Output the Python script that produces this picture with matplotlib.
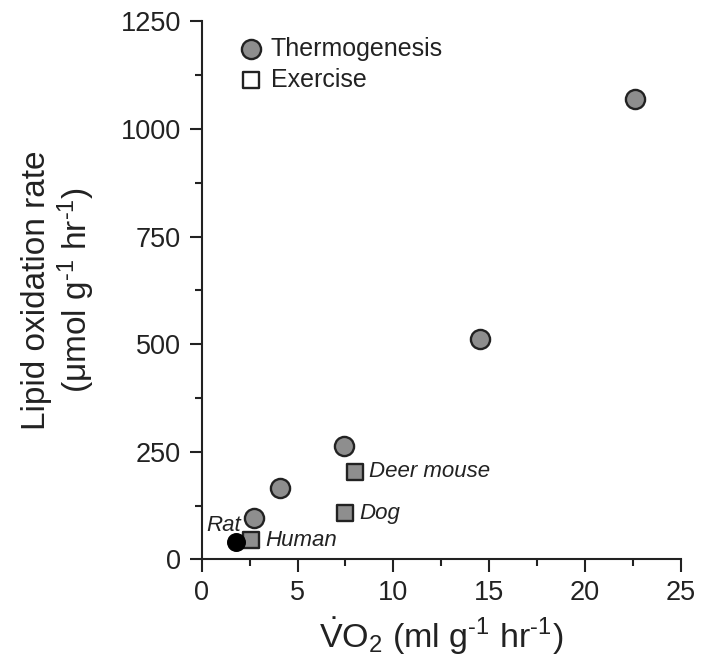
import matplotlib.pyplot as plt
from matplotlib.ticker import MultipleLocator

plt.rcParams['font.family'] = ['Liberation Sans', 'DejaVu Sans']
plt.rcParams['mathtext.fontset'] = 'custom'
plt.rcParams['mathtext.rm'] = 'Liberation Sans'
plt.rcParams['mathtext.it'] = 'Liberation Sans:italic'

# Thermogenesis (circles)
thermo_vo2 = [2.75, 4.1, 7.4, 14.5, 22.6]
thermo_lipid = [97, 166, 263, 512, 1070]

# Exercise (squares)
exercise_species = ['Human', 'Dog', 'Deer mouse']
exercise_vo2 = [2.6, 7.5, 8.0]
exercise_lipid = [45, 107, 204]

# Rat
rat_vo2 = [1.8]
rat_lipid = [40]

ink = '#222222'
grey = '#8e8e8e'

fig = plt.figure(figsize=(7.05, 6.70), dpi=100)
ax = fig.add_axes([0.286, 0.165, 0.68, 0.803])

ax.scatter(thermo_vo2, thermo_lipid, s=190, marker='o', facecolor=grey,
           edgecolor=ink, linewidth=1.7, zorder=3)
ax.scatter(exercise_vo2, exercise_lipid, s=120, marker='s', facecolor=grey,
           edgecolor=ink, linewidth=1.7, zorder=3)
ax.scatter(rat_vo2, rat_lipid, s=160, marker='o', facecolor='black',
           edgecolor='black', linewidth=1.0, zorder=4)

# species labels
for name, x, y in zip(exercise_species, exercise_vo2, exercise_lipid):
    ax.annotate(name, (x, y), xytext=(10, 0), textcoords='offset points',
                ha='left', va='center', fontsize=16, style='italic', color=ink)
ax.annotate('Rat', (rat_vo2[0], rat_lipid[0]), xytext=(-9, 12),
            textcoords='offset points', ha='center', va='center',
            fontsize=16, style='italic', color=ink)

# legend drawn by hand
ax.scatter([2.6], [1185], s=190, marker='o', facecolor=grey, edgecolor=ink,
           linewidth=1.7, clip_on=False)
ax.scatter([2.6], [1113], s=120, marker='s', facecolor='white', edgecolor=ink,
           linewidth=1.7, clip_on=False)
ax.text(3.6, 1185, 'Thermogenesis', fontsize=18, va='center', ha='left', color=ink)
ax.text(3.6, 1113, 'Exercise', fontsize=18, va='center', ha='left', color=ink)

ax.set_xlim(0, 25)
ax.set_ylim(0, 1250)
ax.xaxis.set_major_locator(MultipleLocator(5))
ax.xaxis.set_minor_locator(MultipleLocator(2.5))
ax.yaxis.set_major_locator(MultipleLocator(250))
ax.yaxis.set_minor_locator(MultipleLocator(125))

for side in ['top', 'right']:
    ax.spines[side].set_visible(False)
for side in ['left', 'bottom']:
    ax.spines[side].set_linewidth(1.5)
    ax.spines[side].set_color(ink)

ax.tick_params(which='major', direction='out', length=9, width=1.5,
               labelsize=19.5, colors=ink, pad=6)
ax.tick_params(which='minor', direction='out', length=5, width=1.5, colors=ink)

ax.set_xlabel(r'$\dot{\mathrm{V}}\mathrm{O}_2$ (ml g$^{\mathrm{‐1}}$ hr$^{\mathrm{‐1}}$)',
              fontsize=24.5, color=ink, labelpad=7)
ax.set_ylabel('Lipid oxidation rate\n' + r'(μmol g$^{\mathrm{‐1}}$ hr$^{\mathrm{‐1}}$)',
              fontsize=24, color=ink, labelpad=17, linespacing=1.12)

fig.savefig('out.png', dpi=100)
